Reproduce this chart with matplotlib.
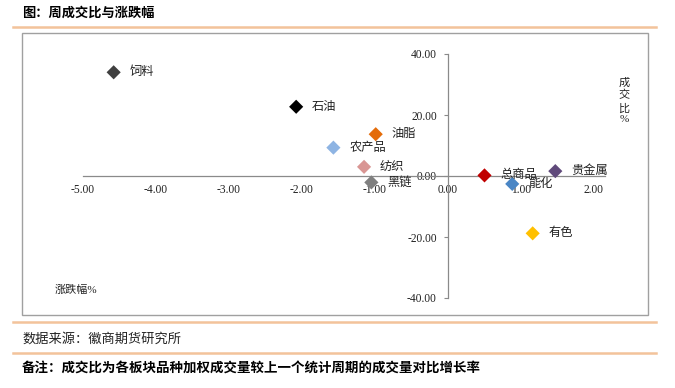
import matplotlib
matplotlib.use("Agg")
import matplotlib.pyplot as plt
from matplotlib.lines import Line2D
from matplotlib.patches import Rectangle

# 板块: 涨跌幅(%), 成交比(%)
sectors = ["饲料", "石油", "农产品", "油脂", "纺织", "黑链", "总商品", "能化", "贵金属", "有色"]
change_pct = [-4.58, -2.08, -1.57, -0.99, -1.15, -1.05, 0.50, 0.88, 1.47, 1.16]
volume_ratio = [34.0, 22.7, 9.3, 13.7, 3.0, -2.1, 0.2, -2.6, 1.6, -18.8]
colors = ["#404040", "#000000", "#8EB4E3", "#E46C0A", "#D99694",
          "#7F7F7F", "#C00000", "#4A86C5", "#604A7B", "#FFC000"]

x_ticks = [-5, -4, -3, -2, -1, 0, 1, 2]
y_ticks = [-40, -20, 0, 20, 40]

W, H = 675, 388
plt.rcParams["font.family"] = ["Liberation Serif", "Noto Sans CJK SC"]

fig = plt.figure(figsize=(W / 100, H / 100), dpi=100)

# chart box (pixels)
bx0, by0, bx1, by1 = 22, 33, 648, 315
ax = fig.add_axes([bx0 / W, 1 - by1 / H, (bx1 - bx0) / W, (by1 - by0) / H])

# data range chosen so that -5 -> px 83, 2 -> px 594, 40 -> px 54, -40 -> px 298
px_x = 73.0
px_y = 3.05
ax.set_xlim(-5 - (83 - bx0) / px_x, 2 + (bx1 - 594) / px_x)
ax.set_ylim(-(by1 - 176) / px_y, (176 - by0) / px_y)

for s in ["top", "right"]:
    ax.spines[s].set_visible(False)
ax.spines["left"].set_position(("data", 0))
ax.spines["bottom"].set_position(("data", 0))
ax.spines["left"].set_bounds(-40, 40)
ax.spines["bottom"].set_bounds(-5, 2.15)
for s in ["left", "bottom"]:
    ax.spines[s].set_color("#8A8A8A")
    ax.spines[s].set_linewidth(0.9)

ax.set_xticks(x_ticks)
ax.set_xticklabels([f"{v:.2f}" for v in x_ticks])
ax.set_yticks(y_ticks)
ax.set_yticklabels([f"{v:.2f}" for v in y_ticks])
ax.tick_params(axis="x", length=0, pad=6, labelsize=8.3, colors="#222222")
ax.tick_params(axis="y", direction="out", length=3, width=0.8, color="#8A8A8A",
               pad=5, labelsize=8.3, labelcolor="#222222")
ax.patch.set_alpha(0)

ax.scatter(change_pct, volume_ratio, s=52, marker="D", c=colors,
           edgecolors="none", zorder=3)
for name, xv, yv in zip(sectors, change_pct, volume_ratio):
    ax.annotate(name, (xv, yv), xytext=(11.5, 0), textcoords="offset points",
                ha="left", va="center", fontsize=8.8, color="#222222", zorder=4)

# box border
fig.add_artist(Rectangle((bx0 / W, 1 - by1 / H), (bx1 - bx0) / W, (by1 - by0) / H,
                         transform=fig.transFigure, fill=False,
                         edgecolor="#A0A0A0", linewidth=1.0))

# axis titles
fig.text(624 / W, 1 - 101 / H, "成\n交\n比\n%", ha="center", va="center",
         fontsize=8, linespacing=1.3, color="#222222")
fig.text(55 / W, 1 - 290 / H, "涨跌幅%", ha="left", va="center",
         fontsize=8, color="#222222")

# header / footer
orange = "#F3C39B"
for yy in [27, 322, 353]:
    fig.add_artist(Line2D([13 / W, 656 / W], [1 - yy / H, 1 - yy / H],
                          color=orange, linewidth=1.8, transform=fig.transFigure))

fig.text(22 / W, 1 - 13 / H, "图：周成交比与涨跌幅", ha="left", va="center",
         fontsize=9.5, fontweight="bold", family=["Noto Sans CJK SC"])
fig.text(22 / W, 1 - 339 / H, "数据来源：徽商期货研究所", ha="left", va="center",
         fontsize=9.5, family=["Noto Sans CJK SC"], color="#222222")
fig.text(22 / W, 1 - 369 / H, "备注：成交比为各板块品种加权成交量较上一个统计周期的成交量对比增长率",
         ha="left", va="center", fontsize=9.7, fontweight="bold",
         family=["Noto Sans CJK SC"])

fig.savefig("out.png", dpi=100)
